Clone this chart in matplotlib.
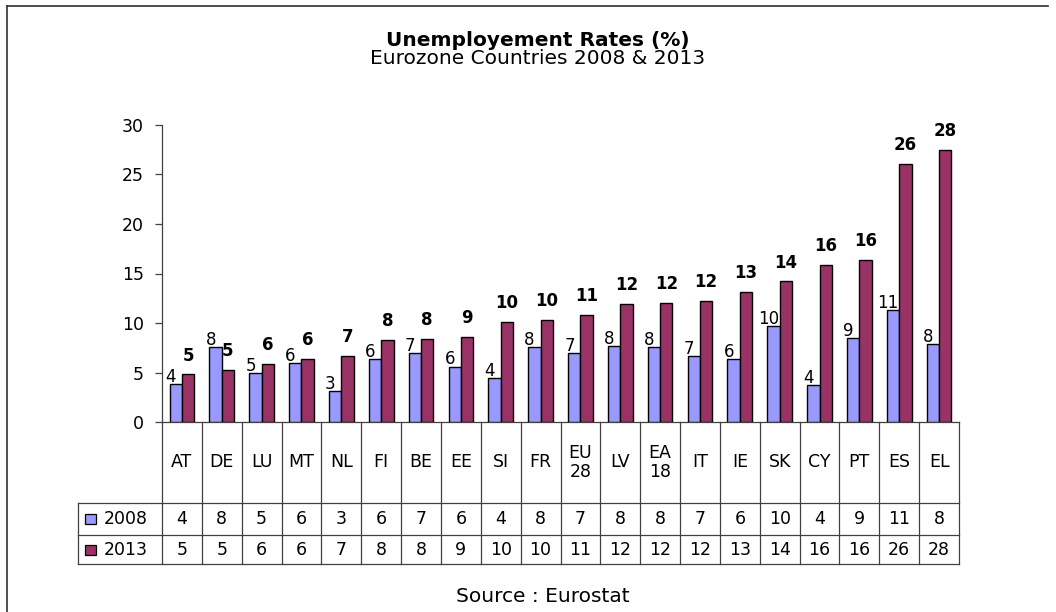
import matplotlib
matplotlib.use('Agg')
import matplotlib.pyplot as plt
import matplotlib.transforms as mtransforms
from matplotlib.lines import Line2D
from matplotlib.patches import Rectangle
import numpy as np

# data (bar heights) + the rounded values shown in the table
countries = ['AT', 'DE', 'LU', 'MT', 'NL', 'FI', 'BE', 'EE', 'SI', 'FR',
             'EU\n28', 'LV', 'EA\n18', 'IT', 'IE', 'SK', 'CY', 'PT', 'ES', 'EL']
rate_2008 = [3.8, 7.6, 4.9, 6.0, 3.1, 6.4, 7.0, 5.6, 4.4, 7.6,
             7.0, 7.7, 7.6, 6.7, 6.4, 9.7, 3.7, 8.5, 11.3, 7.9]
rate_2013 = [4.8, 5.3, 5.9, 6.4, 6.7, 8.3, 8.4, 8.6, 10.1, 10.3,
             10.8, 11.9, 12.0, 12.2, 13.1, 14.2, 15.9, 16.4, 26.1, 27.5]
label_2008 = [4, 8, 5, 6, 3, 6, 7, 6, 4, 8, 7, 8, 8, 7, 6, 10, 4, 9, 11, 8]
label_2013 = [5, 5, 6, 6, 7, 8, 8, 9, 10, 10, 11, 12, 12, 12, 13, 14, 16, 16, 26, 28]
years = ['2008', '2013']
colors = ['#9999FF', '#993366']

W, H = 1056, 612
fig = plt.figure(figsize=(W / 100, H / 100), dpi=100)
fig.patch.set_facecolor('white')

# axes placed in pixel terms: y axis at x=162, right end 959, zero at y=422, 30 at y=125
ax = fig.add_axes([162 / W, 1 - 422 / H, (959 - 162) / W, (422 - 125) / H])

x = np.arange(len(countries))
bw = 0.31
ax.bar(x - bw / 2, rate_2008, bw, color=colors[0], edgecolor='black', linewidth=1, zorder=3)
ax.bar(x + bw / 2, rate_2013, bw, color=colors[1], edgecolor='black', linewidth=1, zorder=3)

for i in range(len(countries)):
    ax.annotate(str(label_2008[i]), (x[i] - bw / 2, rate_2008[i]), xytext=(-3.5, 1.5),
                textcoords='offset points', ha='center', va='baseline', fontsize=12)
    ax.annotate(str(label_2013[i]), (x[i] + bw / 2, rate_2013[i]), xytext=(0, 10),
                textcoords='offset points', ha='center', va='baseline', fontsize=12,
                fontweight='bold')

ax.set_xlim(-0.5, len(countries) - 0.5)
ax.set_ylim(0, 30)
ax.set_yticks([0, 5, 10, 15, 20, 25, 30])
ax.set_xticks([])
ax.tick_params(axis='y', length=5, width=0.9, pad=8, labelsize=12.5, colors='#404040',
               labelcolor='black')
ax.spines['top'].set_visible(False)
ax.spines['right'].set_visible(False)
ax.spines['left'].set_color('#404040')
ax.spines['bottom'].set_color('#404040')
ax.spines['left'].set_linewidth(0.9)
ax.spines['bottom'].set_linewidth(0.9)

# data table under the axis
trans = mtransforms.blended_transform_factory(ax.transData, ax.transAxes)
axh = 422 - 125
y_head = (422 - 502.7) / axh
y_row1 = (422 - 535) / axh
y_row2 = (422 - 564.3) / axh
x_left = -0.5 + (78 - 162) / (797 / 20)
lc = '#404040'
lw = 0.9

for k in range(len(countries) + 1):
    ax.plot([k - 0.5, k - 0.5], [0, y_row2], color=lc, lw=lw, transform=trans, clip_on=False)
ax.plot([x_left, x_left], [y_head, y_row2], color=lc, lw=lw, transform=trans, clip_on=False)
for yy in [y_head, y_row1, y_row2]:
    ax.plot([x_left, len(countries) - 0.5], [yy, yy], color=lc, lw=lw, transform=trans,
            clip_on=False)

for i, c in enumerate(countries):
    ax.text(x[i], y_head / 2, c, ha='center', va='center', fontsize=12.5, transform=trans,
            linespacing=1.05)
    ax.text(x[i], (y_head + y_row1) / 2, str(label_2008[i]), ha='center', va='center',
            fontsize=12.5, transform=trans)
    ax.text(x[i], (y_row1 + y_row2) / 2, str(label_2013[i]), ha='center', va='center',
            fontsize=12.5, transform=trans)

# legend keys in the first table column
px = 39.85
mk_x = -0.5 + (85 - 162) / px
mk_w = 11.5 / px
mk_h = 10 / axh
for j, (yr, yc) in enumerate(zip(years, [(y_head + y_row1) / 2, (y_row1 + y_row2) / 2])):
    ax.add_patch(Rectangle((mk_x, yc - mk_h / 2), mk_w, mk_h, facecolor=colors[j],
                           edgecolor='black', lw=0.9, transform=trans, clip_on=False))
    ax.text(-0.5 + (104 - 162) / px, yc, yr, ha='left', va='center', fontsize=12.5,
            transform=trans)

# titles and source
fig.text(538 / W, 1 - 46 / H, 'Unemployement Rates (%)', ha='center', va='baseline',
         fontsize=14.5, fontweight='bold')
fig.text(538 / W, 1 - 64.5 / H, 'Eurozone Countries 2008 & 2013', ha='center',
         va='baseline', fontsize=14.5)
fig.text(543 / W, 1 - 602 / H, 'Source : Eurostat', ha='center', va='baseline', fontsize=14.5)

# outer chart frame
fig.add_artist(Line2D([6.5 / W, 6.5 / W], [0, 1 - 5.5 / H], color='#303030', lw=1.2,
                      transform=fig.transFigure))
fig.add_artist(Line2D([6.5 / W, 1048 / W], [1 - 5.5 / H, 1 - 5.5 / H], color='#303030',
                      lw=1.2, transform=fig.transFigure))

fig.savefig('out.png', dpi=100)
